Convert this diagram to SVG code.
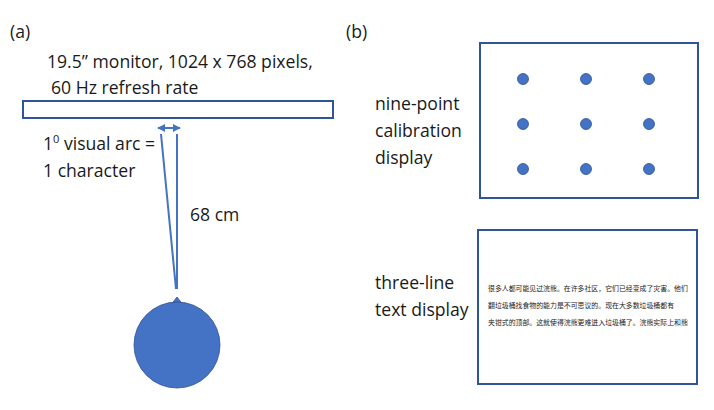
<svg xmlns="http://www.w3.org/2000/svg" width="714" height="410" viewBox="0 0 714 410">
<defs>
<style>
.t{font-family:"Open Sans","Liberation Sans",sans-serif;font-size:17.6px;fill:#1a1a1a}
.box{fill:#fff;stroke:#2F5597;stroke-width:2}
.ln{stroke:#4472C4;stroke-width:2;fill:none}
.dot{fill:#4472C4;stroke:#2F528F;stroke-width:0.8}
.cn{font-family:"Noto Sans CJK SC",sans-serif;font-size:6.9px;fill:#222}
</style>
<marker id="ah" viewBox="0 0 10 10" refX="9" refY="5" markerWidth="4" markerHeight="4" orient="auto-start-reverse"><path d="M0,0 L10,5 L0,10 z" fill="#4472C4"/></marker>
</defs>
<rect width="714" height="410" fill="#fff"/>
<text class="t" x="10" y="38">(a)</text>
<text class="t" x="346" y="38">(b)</text>
<g id="monitor">
<text class="t" x="47" y="68">19.5” monitor, 1024 x 768 pixels,</text>
<text class="t" x="51" y="94">60 Hz refresh rate</text>
<rect class="box" x="23" y="101" width="310" height="17"/>
</g>
<g id="arc-label">
<text class="t" x="43" y="150">1<tspan font-size="11" dy="-7">0</tspan><tspan dy="7"> visual arc =</tspan></text>
<text class="t" x="43" y="177">1 character</text>
</g>
<g id="distance-label"><text class="t" x="190" y="221">68 cm</text></g>
<g id="connectors">
<line class="ln" x1="158" y1="128" x2="180" y2="128" marker-start="url(#ah)" marker-end="url(#ah)"/>
<line class="ln" x1="161" y1="134" x2="176" y2="289"/>
<line class="ln" x1="177" y1="134" x2="177" y2="289"/>
</g>
<g id="head">
<path d="M170,306 L177,297 L184,306 Z" fill="#4472C4" stroke="#2F528F" stroke-width="0.8"/>
<circle cx="177" cy="345" r="43" fill="#4472C4" stroke="#2F528F" stroke-width="0.8"/>
</g>
<g id="calibration">
<text class="t" x="375" y="110">nine-point</text>
<text class="t" x="375" y="137">calibration</text>
<text class="t" x="375" y="164">display</text>
<rect class="box" x="480" y="43" width="218" height="155"/>
<circle class="dot" cx="523" cy="79" r="5.5"/>
<circle class="dot" cx="586" cy="79" r="5.5"/>
<circle class="dot" cx="649" cy="79" r="5.5"/>
<circle class="dot" cx="523" cy="124" r="5.5"/>
<circle class="dot" cx="586" cy="124" r="5.5"/>
<circle class="dot" cx="649" cy="124" r="5.5"/>
<circle class="dot" cx="523" cy="169" r="5.5"/>
<circle class="dot" cx="586" cy="169" r="5.5"/>
<circle class="dot" cx="649" cy="169" r="5.5"/>
</g>
<g id="text-display">
<text class="t" x="375" y="289">three-line</text>
<text class="t" x="375" y="316">text display</text>
<rect class="box" x="478" y="230" width="219" height="154"/>
<text class="cn" x="488" y="291">很多人都可能见过浣熊。在许多社区，它们已经变成了灾害。他们</text>
<text class="cn" x="488" y="308">翻垃圾桶找食物的能力是不可思议的。现在大多数垃圾桶都有</text>
<text class="cn" x="488" y="325">夹钳式的顶部。这就使得浣熊更难进入垃圾桶了。浣熊实际上和熊</text>
</g>
</svg>
